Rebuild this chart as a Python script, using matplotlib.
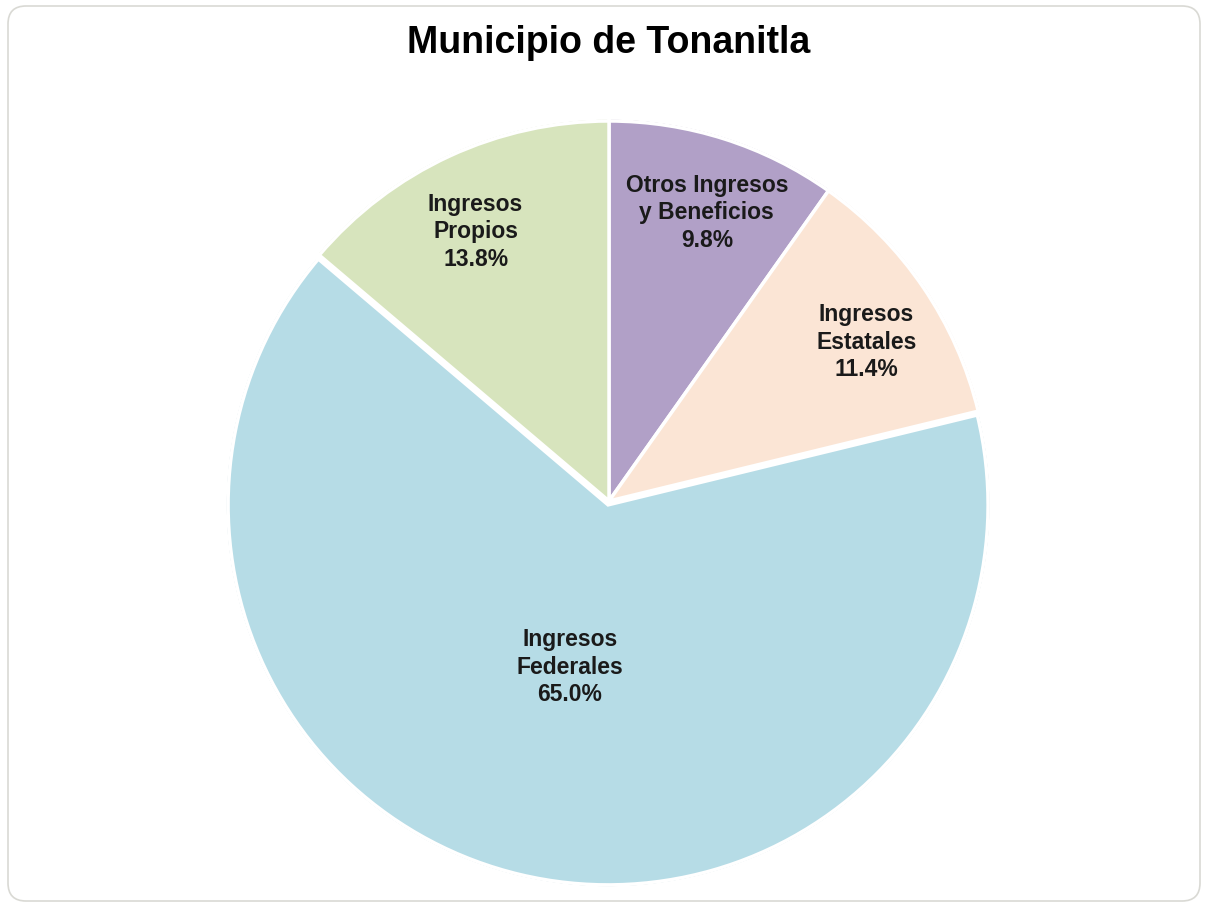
import numpy as np
import matplotlib
matplotlib.use("Agg")
import matplotlib.pyplot as plt
from matplotlib.patches import FancyBboxPatch

# data
categories = ["Otros Ingresos\ny Beneficios", "Ingresos\nEstatales",
              "Ingresos\nFederales", "Ingresos\nPropios"]
shares = [9.8, 11.4, 65.0, 13.8]
colors = ["#B1A0C7", "#FBE5D5", "#B6DCE6", "#D7E4BD"]
edge_colors = ["#8A7AA3", "#D9BFAE", "#8FB3BE", "#B4C497"]
title = "Municipio de Tonanitla"

plt.rcParams['font.family'] = ['Liberation Sans', 'DejaVu Sans']

W, H = 1206, 905
fig = plt.figure(figsize=(W / 100, H / 100), dpi=100)
ax = fig.add_axes([0, 0, 1, 1])

# chart frame
frame = FancyBboxPatch((8, 4), W - 14, H - 10,
                       boxstyle="round,pad=0,rounding_size=18",
                       facecolor="#FFFFFF", edgecolor="#D9D9D4", linewidth=1.2)
ax.add_patch(frame)

cx, cy, r = 609, H - 501, 383
explode = [0, 0, 4, 0]   # data units (pixels)

# darker rim underneath to hint at the bevel
ax.pie(shares, startangle=90, counterclock=False, center=(cx, cy), radius=r,
       explode=explode, colors=edge_colors, frame=True,
       wedgeprops=dict(edgecolor="white", linewidth=2.5))
wedges, _ = ax.pie(shares, startangle=90, counterclock=False, center=(cx, cy),
                   radius=r - 3, explode=explode, colors=colors, frame=True,
                   wedgeprops=dict(edgecolor="white", linewidth=2.5))
ax.set_xlim(0, W)
ax.set_ylim(0, H)
ax.set_aspect('equal')
ax.axis('off')

# labels inside slices (distance as fraction of radius, angle nudge in degrees)
dist = [0.795, 0.79, 0.435, 0.785]
nudge = [-1.1, -2.5, 0.0, 1.5]
for w, lab, v, d, n in zip(wedges, categories, shares, dist, nudge):
    ang = np.deg2rad((w.theta1 + w.theta2) / 2 + n)
    wx, wy = w.center
    ax.text(wx + d * r * np.cos(ang), wy + d * r * np.sin(ang),
            f"{lab}\n{v:.1f}%", ha='center', va='center',
            fontsize=16.5, fontweight='bold', color='#1a1a1a', linespacing=1.25)

ax.text(W / 2 + 6, H - 43, title, ha='center', va='center',
        fontsize=27, fontweight='bold', color='black')

fig.savefig("out.png", dpi=100)
